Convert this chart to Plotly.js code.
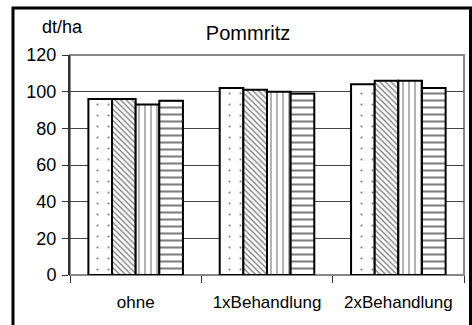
<!DOCTYPE html>
<html>
<head>
<meta charset="utf-8">
<script src="https://cdn.plot.ly/plotly-3.0.1.min.js"></script>
<style>
  html, body { margin: 0; padding: 0; background: #fff; }
  #chart { width: 472px; height: 325px; }
</style>
</head>
<body>
<div id="chart"></div>
<script>
// categories and the four series
const categories = ["ohne", "1xBehandlung", "2xBehandlung"];
const series1 = [96, 102, 104];
const series2 = [96, 101, 106];
const series3 = [93, 100, 106];
const series4 = [95, 99, 102];
const yTicks = [0, 20, 40, 60, 80, 100, 120];

const font = "Liberation Sans, Arial, sans-serif";

const patterns = [
  { shape: ".", size: 11, solidity: 0.03 },
  { shape: "\\", size: 4, solidity: 0.35 },
  { shape: "|", size: 6, solidity: 0.2 },
  { shape: "-", size: 7, solidity: 0.3 },
];

const makeBar = function (values, pat) {
  return {
    x: categories,
    y: values,
    type: "bar",
    hoverinfo: "none",
    marker: {
      color: "#fff",
      line: { color: "#000", width: 2 },
      pattern: {
        shape: pat.shape,
        size: pat.size,
        solidity: pat.solidity,
        fgcolor: "#000",
        bgcolor: "#fff",
        fillmode: "overlay",
      },
    },
  };
};

const data = [
  makeBar(series1, patterns[0]),
  makeBar(series2, patterns[1]),
  makeBar(series3, patterns[2]),
  makeBar(series4, patterns[3]),
];

const layout = {
  width: 472,
  height: 325,
  margin: { l: 70, r: 8, t: 55, b: 50 },
  paper_bgcolor: "#fff",
  plot_bgcolor: "#fff",
  showlegend: false,
  barmode: "group",
  bargap: 0.28,
  bargroupgap: 0,
  font: { family: font, size: 18, color: "#000" },
  title: {
    text: "Pommritz",
    font: { family: font, size: 20, color: "#000" },
    xref: "paper",
    x: 0.452,
    xanchor: "center",
    yref: "container",
    y: 0.9,
    yanchor: "middle",
  },
  xaxis: {
    type: "category",
    tickson: "boundaries",
    ticks: "outside",
    ticklen: 7,
    tickcolor: "#333",
    tickwidth: 1,
    showgrid: false,
    showline: false,
    zeroline: false,
    ticklabelstandoff: 15,
    tickfont: { family: font, size: 17, color: "#000" },
  },
  yaxis: {
    range: [0, 120],
    tickvals: yTicks,
    ticks: "outside",
    ticklen: 6,
    tickcolor: "#333",
    tickwidth: 1,
    showline: true,
    linecolor: "#333",
    linewidth: 2,
    showgrid: true,
    gridcolor: "#444",
    gridwidth: 1,
    zeroline: false,
    ticklabelstandoff: 2,
    tickfont: { family: font, size: 18, color: "#000" },
  },
  shapes: [
    // grey plot-area border
    {
      type: "rect",
      xref: "paper",
      yref: "paper",
      x0: 0,
      x1: 1,
      y0: 0,
      y1: 1,
      line: { color: "#888", width: 2 },
      layer: "below",
    },
    // outer black frame
    {
      type: "rect",
      xref: "paper",
      yref: "paper",
      x0: -0.1447,
      x1: 1.0165,
      y0: -0.3,
      y1: 1.2136,
      line: { color: "#000", width: 3 },
    },
  ],
  annotations: [
    {
      text: "dt/ha",
      xref: "paper",
      yref: "paper",
      x: -0.02,
      y: 1.127,
      xanchor: "center",
      yanchor: "middle",
      showarrow: false,
      font: { family: font, size: 18, color: "#000" },
    },
  ],
};

Plotly.newPlot("chart", data, layout, { staticPlot: true });
</script>
</body>
</html>
